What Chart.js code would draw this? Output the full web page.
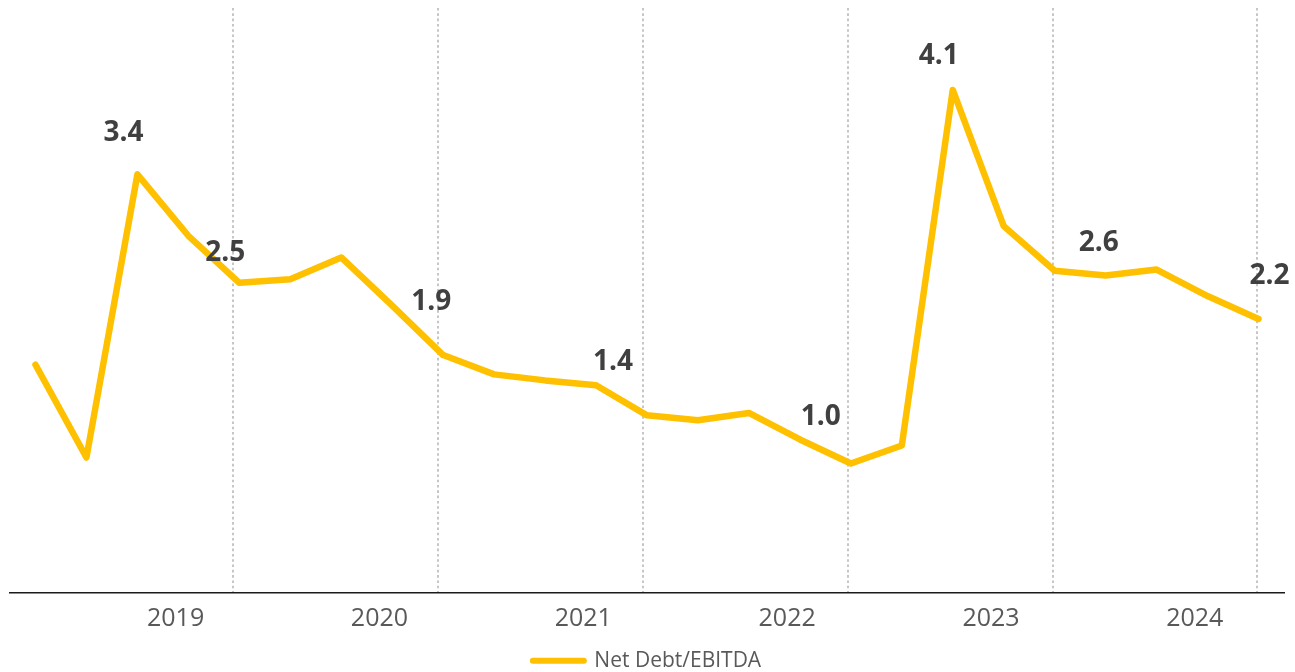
<!DOCTYPE html>
<html>
<head>
<meta charset="utf-8">
<script src="https://cdn.jsdelivr.net/npm/chart.js@4.4.1/dist/chart.umd.min.js"></script>
<style>
  html, body { margin: 0; padding: 0; background: #ffffff; }
  canvas { display: block; }
</style>
</head>
<body>
<canvas id="leverage" width="1295" height="672"></canvas>
<script>
// Net Debt / EBITDA by quarter, Q4 2018 through Q4 2024
const quarters = [
  'Q4 2018',
  'Q1 2019', 'Q2 2019', 'Q3 2019', 'Q4 2019',
  'Q1 2020', 'Q2 2020', 'Q3 2020', 'Q4 2020',
  'Q1 2021', 'Q2 2021', 'Q3 2021', 'Q4 2021',
  'Q1 2022', 'Q2 2022', 'Q3 2022', 'Q4 2022',
  'Q1 2023', 'Q2 2023', 'Q3 2023', 'Q4 2023',
  'Q1 2024', 'Q2 2024', 'Q3 2024', 'Q4 2024'
];

const netDebtToEbitda = [
  1.82,
  1.05, 3.4, 2.89, 2.5,
  2.53, 2.71, 2.31, 1.9,
  1.74, 1.69, 1.65, 1.4,
  1.36, 1.42, 1.20, 1.0,
  1.15, 4.1, 2.97, 2.6,
  2.56, 2.61, 2.39, 2.2
];

const yearLabels = ['2019', '2020', '2021', '2022', '2023', '2024'];

// quarters whose value is printed above the line
const labelledQuarters = ['Q2 2019', 'Q4 2019', 'Q4 2020', 'Q4 2021', 'Q4 2022', 'Q2 2023', 'Q4 2023', 'Q4 2024'];

const GOLD = '#FFC000';
const FONT = "'Open Sans', 'Noto Sans', sans-serif";

// where each printed value sits relative to its point (px)
const labelOffsets = {
  'Q2 2019': [-14, -41],
  'Q4 2019': [-14, -30],
  'Q4 2020': [-12, -53],
  'Q4 2021': [-34, -53],
  'Q4 2022': [-30, -47],
  'Q2 2023': [-14, -34],
  'Q4 2023': [44, -28],
  'Q4 2024': [11, -43]
};

const valueLabels = {
  id: 'valueLabels',
  afterDatasetsDraw(chart, args, opts) {
    const meta = chart.getDatasetMeta(0);
    const ctx = chart.ctx;
    ctx.save();
    ctx.font = opts.font;
    ctx.fillStyle = opts.color;
    ctx.textAlign = 'center';
    ctx.textBaseline = 'middle';
    labelledQuarters.forEach((q) => {
      const i = quarters.indexOf(q);
      const pt = meta.data[i];
      const [dx, dy] = labelOffsets[q];
      ctx.fillText(netDebtToEbitda[i].toFixed(1), pt.x + dx, pt.y + dy);
    });
    ctx.restore();
  }
};

const points = netDebtToEbitda.map((v, i) => ({ x: i, y: v }));

new Chart(document.getElementById('leverage'), {
  type: 'line',
  data: {
    datasets: [{
      label: 'Net Debt/EBITDA',
      data: points,
      borderColor: GOLD,
      backgroundColor: GOLD,
      borderWidth: 6.5,
      borderJoinStyle: 'round',
      borderCapStyle: 'round',
      pointRadius: 0,
      pointHoverRadius: 0,
      tension: 0,
      fill: false
    }]
  },
  options: {
    responsive: false,
    animation: false,
    events: [],
    layout: { padding: { top: 8, left: 10, right: 11, bottom: -9.2 } },
    scales: {
      x: {
        type: 'linear',
        position: 'bottom',
        min: -0.5,
        max: 24.5,
        afterBuildTicks(scale) {
          scale.ticks = yearLabels.map((y) => ({ value: quarters.indexOf('Q1 ' + y) + 1.75 }));
        },
        ticks: {
          autoSkip: false,
          maxRotation: 0,
          padding: 11.5,
          color: '#595959',
          font: { family: FONT, size: 25 },
          callback: (value, index) => yearLabels[index]
        },
        grid: { display: false, drawTicks: false },
        border: { display: true, color: '#1a1a1a', width: 1.6 }
      },
      yearEnd: {
        type: 'linear',
        position: 'top',
        min: -0.366,
        max: 24.522,
        afterBuildTicks(scale) {
          scale.ticks = yearLabels.map((y) => ({ value: quarters.indexOf('Q4 ' + y) }));
        },
        ticks: { display: false },
        grid: { display: true, drawTicks: false, color: '#c6c6c6', lineWidth: 2 },
        border: { display: false, dash: [2.6, 2.7] }
      },
      y: {
        display: false,
        min: -0.07,
        max: 4.78
      }
    },
    plugins: {
      tooltip: { enabled: false },
      legend: {
        display: true,
        position: 'bottom',
        labels: {
          usePointStyle: true,
          pointStyle: 'line',
          pointStyleWidth: 51,
          padding: 4.7,
          color: '#595959',
          font: { family: FONT, size: 21 },
          generateLabels(chart) {
            return Chart.defaults.plugins.legend.labels.generateLabels(chart).map((item) => ({
              ...item,
              pointStyle: 'line',
              strokeStyle: GOLD,
              fillStyle: GOLD,
              lineWidth: 6,
              lineCap: 'round'
            }));
          }
        }
      },
      valueLabels: {
        font: "bold 28px " + FONT,
        color: '#404040'
      }
    }
  },
  plugins: [valueLabels]
});
</script>
</body>
</html>
